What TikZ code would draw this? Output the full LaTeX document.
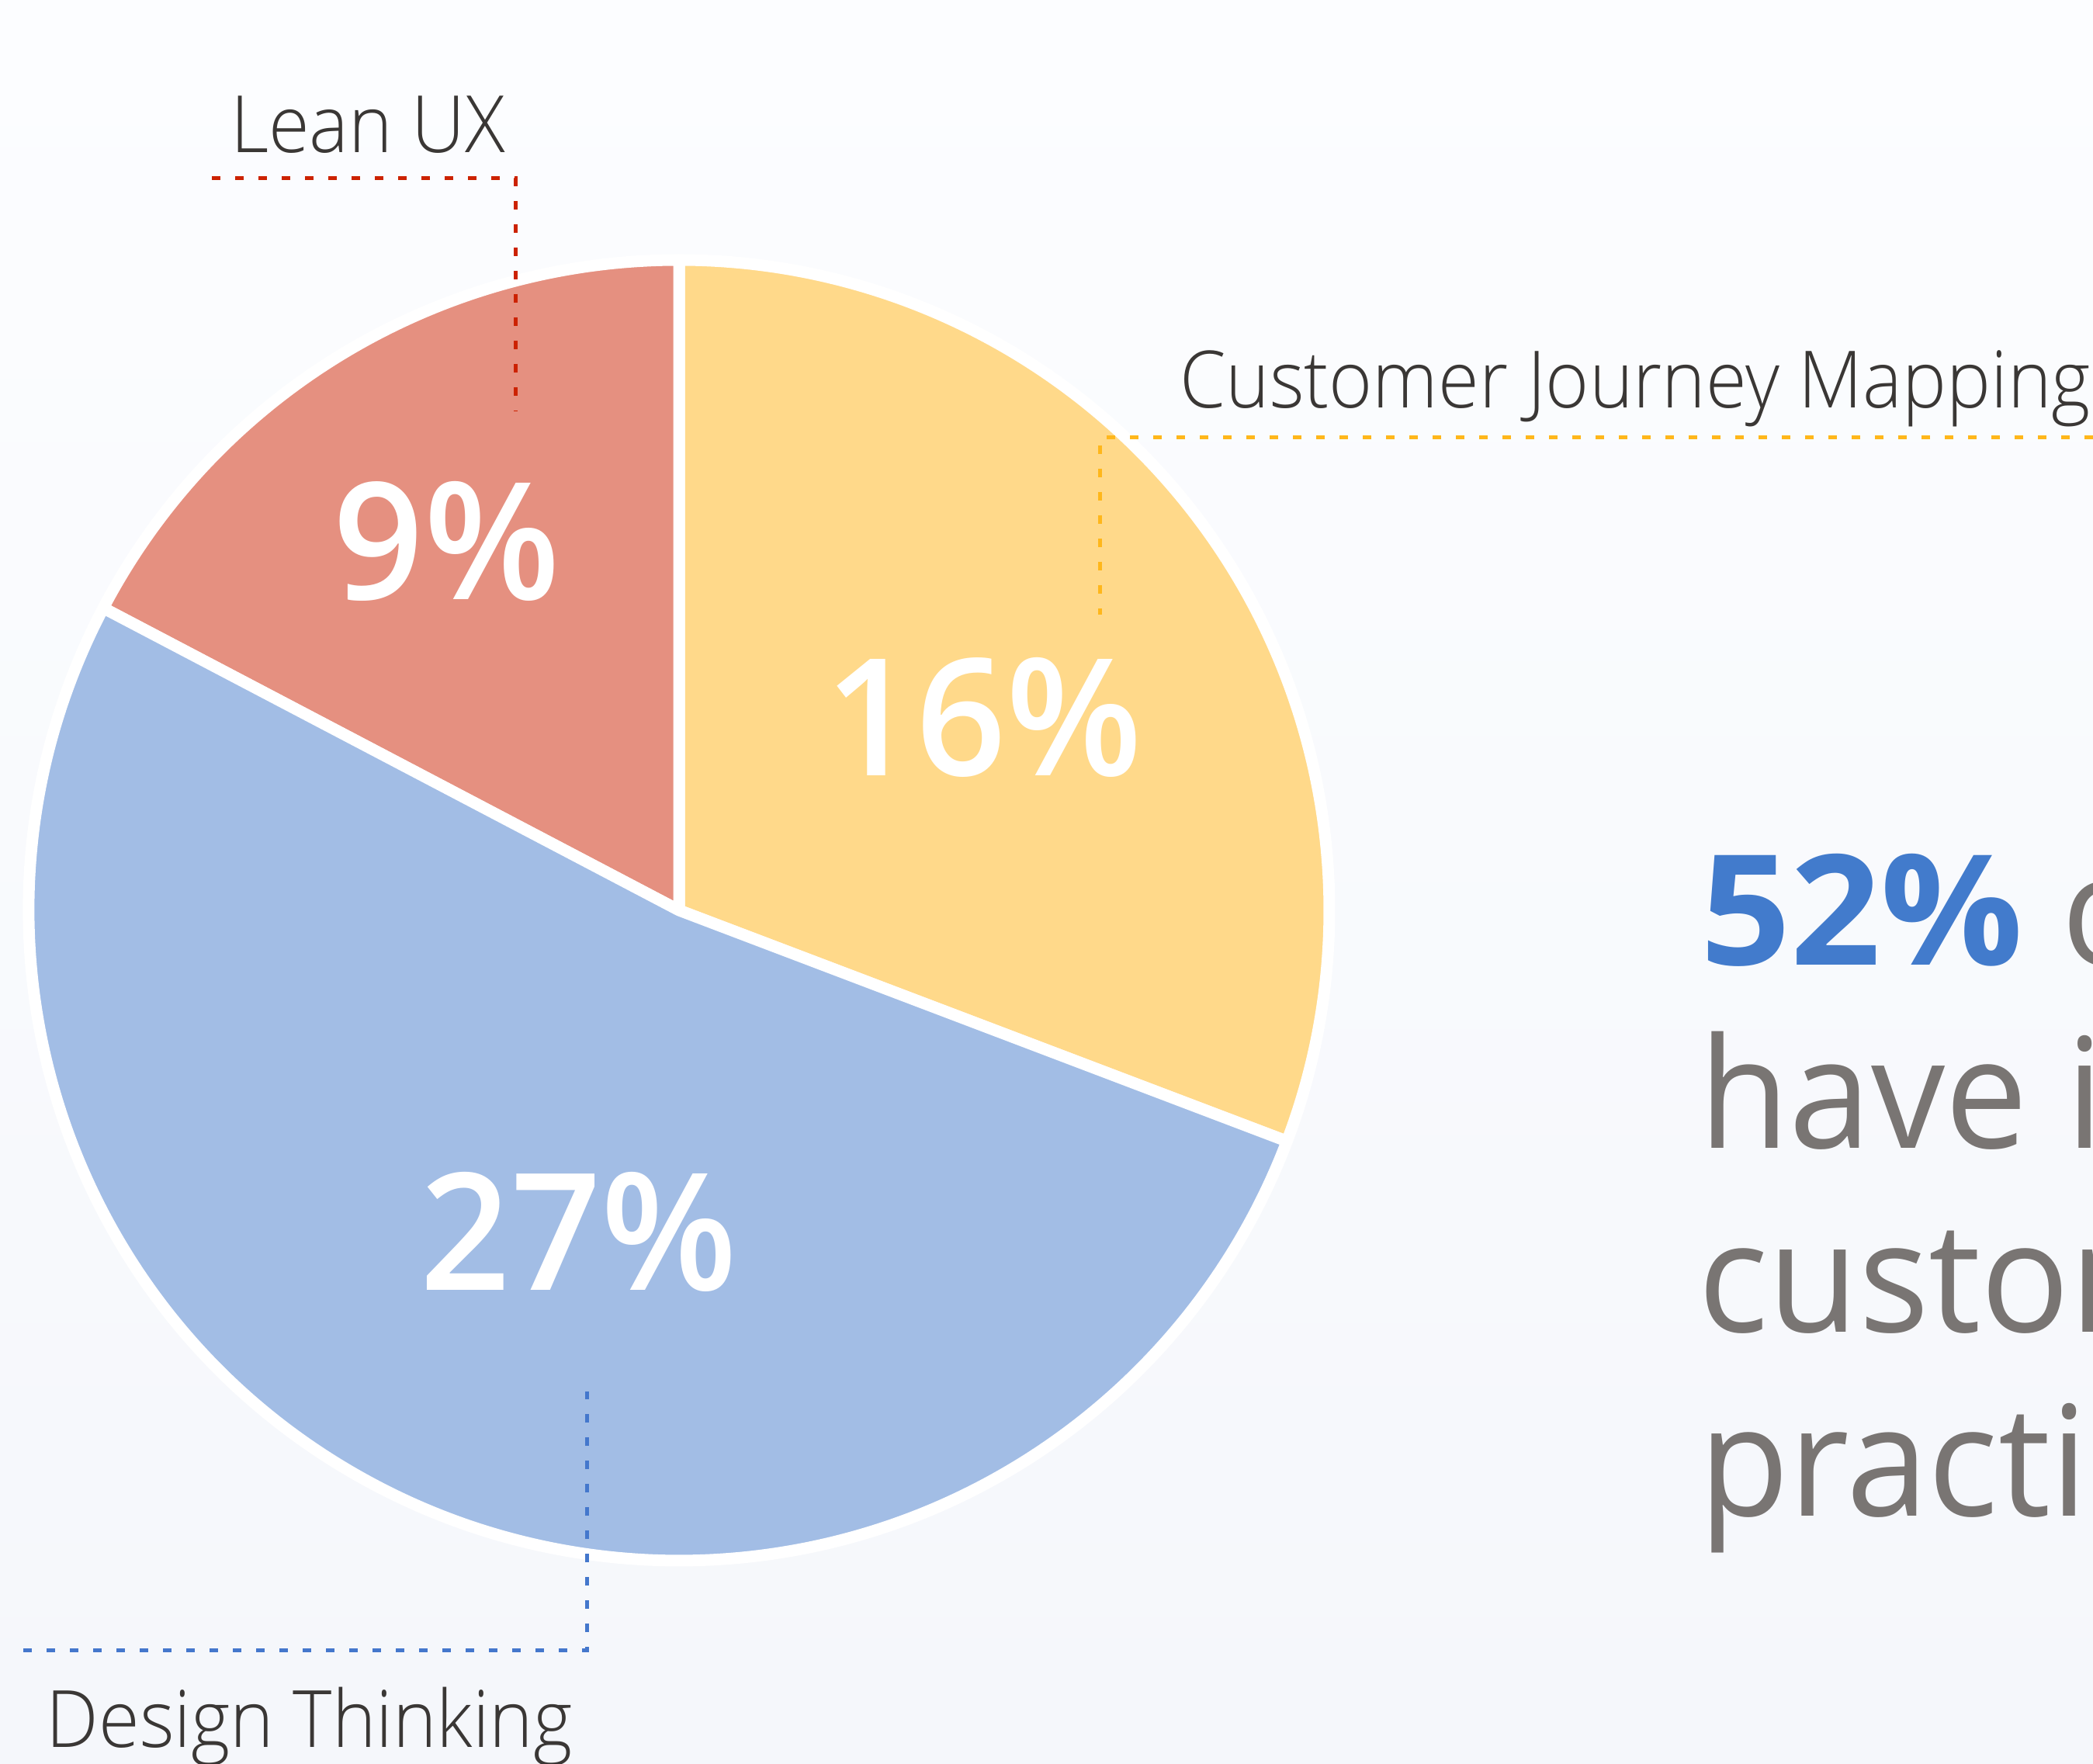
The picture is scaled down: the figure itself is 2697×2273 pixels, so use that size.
\documentclass[tikz,border=0pt]{standalone}
\usepackage{fontspec}
\setmainfont{Open Sans}
\newfontfamily\labelfont[FakeStretch=0.94]{Open Sans Light}
\newfontfamily\pctfont[FakeStretch=0.97]{Open Sans Semibold}
\newfontfamily\notefont[FakeStretch=0.96]{Open Sans}
\newfontfamily\noteboldfont[FakeStretch=1.03]{Open Sans Bold}
\usetikzlibrary{positioning}

\definecolor{leanux}{RGB}{229,144,128}
\definecolor{leanuxline}{RGB}{204,34,0}
\definecolor{cjm}{RGB}{255,217,138}
\definecolor{cjmline}{RGB}{255,183,27}
\definecolor{dthink}{RGB}{162,189,229}
\definecolor{dthinkline}{RGB}{68,119,204}
\definecolor{labeltext}{RGB}{58,55,53}
\definecolor{notegray}{RGB}{121,117,115}
\definecolor{noteblue}{RGB}{66,123,204}
\definecolor{bgtop}{RGB}{252,253,255}
\definecolor{bgbottom}{RGB}{245,247,251}

\begin{document}
\begin{tikzpicture}[x=0.1mm, y=0.1mm,
        every node/.style={inner sep=0pt, outer sep=0pt},
        slice/.style={draw=white, line width=1.5mm, line join=round},
        pct/.style={text=white, font=\pctfont\fontsize{59.8}{60}\selectfont, anchor=base},
        catlabel/.style={text=labeltext, font=\labelfont\fontsize{29}{30}\selectfont, anchor=base west},
        noteline/.style={text=notegray, font=\notefont\fontsize{56.3}{60}\selectfont, anchor=base west},
        leader/.style={line width=0.5mm, dash pattern=on 1.1mm off 1.9mm}
    ]

    % Background
    \useasboundingbox (0,0) rectangle (2697,2273);
    \clip (0,0) rectangle (2697,2273);
    \shade[top color=bgtop, bottom color=bgbottom] (0,0) rectangle (2697,2273);

    % Pie
    \coordinate (centre) at (875,1100);
    \filldraw[slice, fill=cjm] (centre) -- ++(-20.8:838) arc[start angle=-20.8, end angle=90, radius=838] -- cycle;
    \filldraw[slice, fill=leanux] (centre) -- ++(90:838) arc[start angle=90, end angle=152.3, radius=838] -- cycle;
    \filldraw[slice, fill=dthink] (centre) -- ++(152.3:838) arc[start angle=152.3, end angle=339.2, radius=838] -- cycle;

    % Percentages
    \node[pct] (pctlean) at (576,1500) {9\%};
    \node[pct] (pctcjm) at (1268,1273) {16\%};
    \node[pct] (pctdt) at (746,610) {27\%};

    % Labels
    \node[catlabel] (leanux) at (297,2076) {Lean UX};
    \node[catlabel] (cjmlabel) at (1520,1747) {Customer Journey Mapping};
    \node[catlabel] (dtlabel) at (60,21) {Design Thinking};

    % Leaders
    \coordinate (leanA) at (273,2043);
    \coordinate (leanB) at (664,2043);
    \coordinate (leanC) at (664,1743);
    \coordinate (cjmA) at (2697,1709);
    \coordinate (cjmB) at (1417,1709);
    \coordinate (cjmC) at (1417,1481);
    \coordinate (dtA) at (30,146);
    \coordinate (dtB) at (756,146);
    \coordinate (dtC) at (756,480);
    \draw[leader, leanuxline] (leanA) -- (leanB) -- (leanC);
    \draw[leader, cjmline] (cjmA) -- (cjmB) -- (cjmC);
    \draw[leader, dthinkline] (dtA) -- (dtB) -- (dtC);

    % Note on the right
    \node[noteline] (note1) at (2191,1029) {{\color{noteblue}\noteboldfont 52\%} o};
    \node[noteline] (note2) at (2189,793) {have i};
    \node[noteline] (note3) at (2188,556) {custom};
    \node[noteline] (note4) at (2189,319) {practi};

\end{tikzpicture}
\end{document}
